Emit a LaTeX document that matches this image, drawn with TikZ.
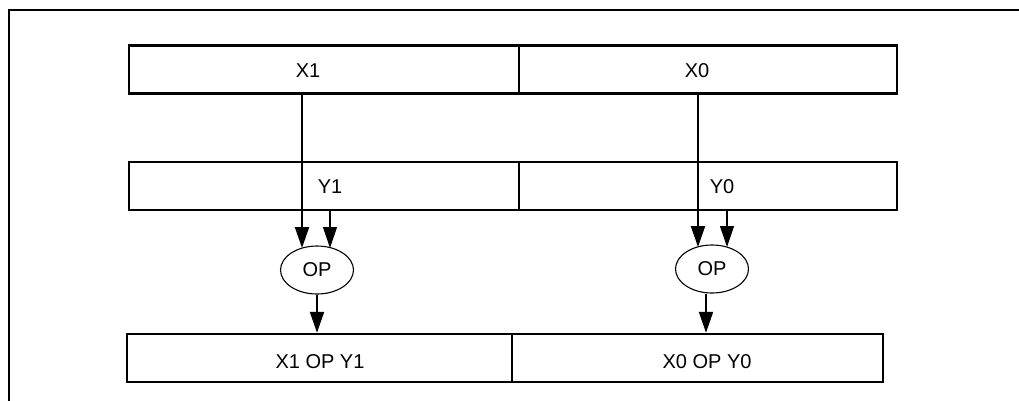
\documentclass[tikz,border=0pt]{standalone}
\usepackage{fontspec}
\setmainfont{Liberation Sans}
\usetikzlibrary{arrows.meta,shapes.geometric}
\begin{document}
\begin{tikzpicture}[x=1pt,y=-1pt]
    \tikzset{
        cell/.style={draw, line width=2.4pt, inner sep=0pt},
        txt/.style={inner sep=0pt, font=\fontsize{20}{23}\selectfont},
        opnode/.style={draw, ellipse, line width=1.1pt, minimum width=73pt, minimum height=48pt, inner sep=0pt, font=\fontsize{20}{23}\selectfont},
        arc/.style={-{Triangle[length=21pt,width=14pt]}, line width=2pt},
        thinarc/.style={-{Triangle[length=21pt,width=14pt]}, line width=1.1pt}
    }
    \useasboundingbox (0,0) rectangle (1019,400);
    % open frame
    \draw[line width=2.4pt] (9,401) -- (9,10) -- (1020,10);

    % rows of cells
    \node[cell, minimum width=390pt, minimum height=48pt] (x1) at (324,69.5) {};
    \node[cell, minimum width=378pt, minimum height=48pt] (x0) at (708,69.5) {};
    \node[cell, minimum width=390pt, minimum height=48pt] (y1) at (324,186) {};
    \node[cell, minimum width=378pt, minimum height=48pt] (y0) at (708,186) {};
    \node[cell, minimum width=385pt, minimum height=48pt] (r1) at (319.5,358) {};
    \node[cell, minimum width=371pt, minimum height=48pt] (r0) at (697.5,358) {};

    \node[txt] (lx1) at (308,71) {X1};
    \node[txt] (lx0) at (697,71) {X0};
    \node[txt] (ly1) at (330,187) {Y1};
    \node[txt] (ly0) at (722,187) {Y0};
    \node[txt] (lr1) at (320,362) {X1 OP Y1};
    \node[txt] (lr0) at (707,362) {X0 OP Y0};

    \node[opnode] (op1) at (317,270) {OP};
    \node[opnode] (op0) at (712,269) {OP};

    \coordinate (a1) at (302,248);
    \coordinate (b1) at (330,248);
    \coordinate (a0) at (698,247);
    \coordinate (b0) at (727,247);
    \coordinate (c0) at (706,0);

    \foreach \s/\t in {x1/a1,x0/a0}{
        \draw[arc] (\s.south -| \t) -- (\t);
    }
    \foreach \s/\t in {y1/b1,y0/b0}{
        \draw[thinarc] ([yshift=2pt]\s.south -| \t) -- (\t);
    }
    \draw[arc] (op1.south) -- (r1.north -| op1);
    \draw[arc] (op0.south -| c0) -- (r0.north -| c0);
\end{tikzpicture}
\end{document}
